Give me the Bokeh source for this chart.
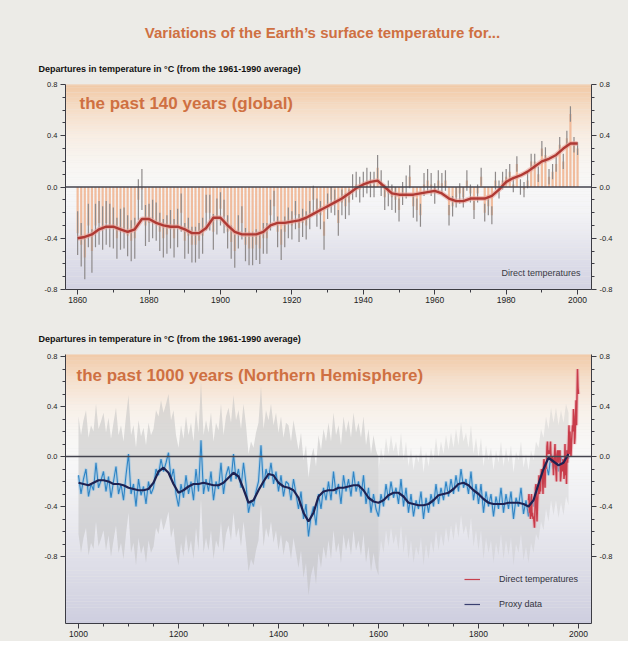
import numpy as np
from bokeh.plotting import figure
from bokeh.models import (Range1d, LinearAxis, FixedTicker, PrintfTickFormatter,
                          Label, Span, Legend, LegendItem)
from bokeh.layouts import column
from bokeh.embed import file_html
from bokeh.resources import INLINE

# ---------------- data: past 140 years (global) ----------------
glob_years = list(range(1860, 2001))
glob_anom = [
    -0.36, -0.45, -0.55, -0.30, -0.50, -0.30, -0.28, -0.32, -0.28, -0.30,
    -0.32, -0.40, -0.33, -0.32, -0.38, -0.42, -0.40, -0.10, -0.02, -0.30,
    -0.28, -0.25, -0.27, -0.35, -0.40, -0.37, -0.33, -0.40, -0.32, -0.20,
    -0.42, -0.38, -0.45, -0.45, -0.42, -0.38, -0.20, -0.20, -0.35, -0.23,
    -0.17, -0.23, -0.35, -0.43, -0.50, -0.35, -0.28, -0.45, -0.48, -0.48,
    -0.45, -0.48, -0.40, -0.40, -0.22, -0.15, -0.35, -0.45, -0.35, -0.28,
    -0.30, -0.22, -0.32, -0.28, -0.30, -0.22, -0.10, -0.20, -0.22, -0.38,
    -0.15, -0.10, -0.12, -0.28, -0.12, -0.15, -0.12, 0.00, 0.02, -0.02,
    0.02, 0.05, 0.02, 0.02, 0.15, 0.03, -0.08, -0.05, -0.08, -0.10,
    -0.18, -0.05, 0.00, 0.08, -0.15, -0.18, -0.22, 0.02, 0.05, 0.02,
    -0.05, 0.05, 0.03, 0.05, -0.22, -0.15, -0.08, -0.05, -0.08, 0.05,
    -0.05, -0.18, -0.05, 0.08, -0.20, -0.15, -0.22, 0.05, -0.02, 0.05,
    0.08, 0.12, 0.02, 0.18, 0.00, -0.02, 0.05, 0.20, 0.20, 0.10,
    0.30, 0.25, 0.08, 0.12, 0.18, 0.33, 0.20, 0.38, 0.57, 0.33,
    0.30]
# half-width of the grey uncertainty bars, per decade (1860s ... 2000)
glob_err_decade = [0.17, 0.16, 0.15, 0.14, 0.13, 0.12, 0.11, 0.10, 0.10,
                   0.09, 0.08, 0.07, 0.06, 0.06, 0.05]
glob_smooth_years = list(range(1860, 2001, 2))
glob_smooth = [
    -0.40, -0.39, -0.37, -0.33, -0.31, -0.31, -0.33, -0.35, -0.33, -0.25,
    -0.25, -0.28, -0.30, -0.31, -0.31, -0.33, -0.36, -0.36, -0.32, -0.24,
    -0.24, -0.30, -0.35, -0.37, -0.37, -0.37, -0.35, -0.30, -0.28, -0.28,
    -0.27, -0.26, -0.24, -0.21, -0.18, -0.15, -0.12, -0.09, -0.05, -0.01,
    0.02, 0.04, 0.05, 0.00, -0.05, -0.06, -0.06, -0.06, -0.05, -0.04,
    -0.03, -0.05, -0.09, -0.11, -0.11, -0.09, -0.09, -0.09, -0.07, -0.02,
    0.04, 0.07, 0.09, 0.12, 0.16, 0.20, 0.22, 0.25, 0.30, 0.34,
    0.34]

# ---------------- data: past 1000 years (Northern Hemisphere) ----------------
proxy_years = list(range(1000, 1985, 5))
proxy_vals = [
    -0.15, -0.30, -0.18, -0.10, -0.32, -0.22, -0.27, -0.05, -0.25, -0.19,
    -0.12, -0.28, -0.16, -0.33, -0.20, -0.08, -0.30, -0.22, -0.35, -0.15,
    0.02, -0.30, -0.22, -0.40, -0.18, -0.31, -0.24, -0.38, -0.20, -0.30,
    -0.25, -0.10, -0.15, -0.02, -0.12, -0.05, 0.03, -0.18, -0.10, -0.30,
    -0.40, -0.22, -0.33, -0.15, -0.30, -0.20, -0.35, -0.10, -0.28, 0.13,
    -0.30, -0.18, -0.28, -0.12, -0.35, -0.20, -0.26, -0.05, -0.30, -0.15,
    -0.08, -0.20, 0.02, -0.18, -0.10, -0.25, -0.05, -0.22, -0.45, -0.35,
    -0.40, -0.28, -0.20, 0.09, -0.25, -0.10, -0.18, -0.05, -0.22, -0.12,
    -0.28, -0.15, -0.32, -0.20, -0.22, -0.35, -0.18, -0.30, -0.42, -0.28,
    -0.50, -0.38, -0.64, -0.48, -0.40, -0.55, -0.30, -0.42, -0.25, -0.35,
    -0.20, -0.35, -0.12, -0.30, -0.22, -0.38, -0.15, -0.28, -0.18, -0.32,
    -0.12, -0.28, -0.20, -0.32, -0.15, -0.38, -0.25, -0.45, -0.30, -0.42,
    -0.48, -0.30, -0.40, -0.22, -0.35, -0.20, -0.33, -0.25, -0.38, -0.18,
    -0.40, -0.25, -0.45, -0.30, -0.48, -0.35, -0.42, -0.28, -0.50, -0.33,
    -0.45, -0.30, -0.40, -0.22, -0.38, -0.25, -0.35, -0.20, -0.32, -0.18,
    -0.30, -0.15, -0.28, -0.10, -0.25, -0.18, -0.30, -0.12, -0.35, -0.22,
    -0.38, -0.22, -0.45, -0.28, -0.40, -0.30, -0.48, -0.32, -0.42, -0.25,
    -0.45, -0.30, -0.42, -0.28, -0.50, -0.33, -0.40, -0.25, -0.46, -0.35,
    -0.48, -0.32, -0.40, -0.25, -0.30, -0.15, -0.22, -0.05, -0.15, 0.02,
    -0.10, 0.02, -0.12, 0.00, -0.10, 0.05, -0.02]
proxy_smooth_years = list(range(1000, 1990, 10))
proxy_smooth = [
    -0.21, -0.22, -0.23, -0.21, -0.19, -0.19, -0.20, -0.22, -0.22, -0.23,
    -0.25, -0.26, -0.27, -0.27, -0.26, -0.21, -0.12, -0.09, -0.13, -0.22,
    -0.29, -0.27, -0.24, -0.22, -0.22, -0.21, -0.22, -0.23, -0.23, -0.21,
    -0.17, -0.13, -0.16, -0.26, -0.37, -0.35, -0.27, -0.20, -0.14, -0.15,
    -0.21, -0.24, -0.25, -0.27, -0.33, -0.45, -0.52, -0.45, -0.32, -0.28,
    -0.27, -0.27, -0.25, -0.25, -0.24, -0.23, -0.23, -0.27, -0.33, -0.36,
    -0.37, -0.35, -0.31, -0.29, -0.29, -0.32, -0.37, -0.38, -0.39, -0.39,
    -0.38, -0.35, -0.31, -0.30, -0.29, -0.26, -0.22, -0.21, -0.23, -0.27,
    -0.30, -0.34, -0.37, -0.38, -0.38, -0.38, -0.37, -0.37, -0.37, -0.38,
    -0.40, -0.35, -0.22, -0.10, -0.01, -0.04, -0.07, -0.05, 0.02]
# two-sigma uncertainty half-width of the reconstruction
proxy_unc_before_1600 = 0.47
proxy_unc_after_1600 = 0.37
direct_years = list(range(1900, 2001))
direct_vals = [
    -0.35, -0.30, -0.45, -0.42, -0.50, -0.38, -0.30, -0.48, -0.45, -0.50,
    -0.48, -0.52, -0.57, -0.42, -0.25, -0.22, -0.40, -0.52, -0.38, -0.30,
    -0.28, -0.15, -0.30, -0.22, -0.28, -0.15, -0.10, -0.15, -0.12, -0.30,
    -0.08, -0.02, -0.08, -0.25, -0.05, -0.10, -0.05, 0.08, 0.12, 0.02,
    0.03, 0.05, 0.02, 0.05, 0.12, -0.02, -0.05, 0.00, -0.02, -0.05,
    -0.15, -0.02, 0.02, 0.10, -0.08, -0.12, -0.20, 0.02, 0.05, 0.02,
    -0.05, 0.05, 0.02, 0.05, -0.20, -0.15, -0.08, -0.05, -0.12, -0.02,
    -0.05, -0.18, -0.12, 0.10, -0.15, -0.08, -0.22, 0.05, -0.05, 0.02,
    0.12, 0.25, 0.02, 0.20, 0.05, 0.00, 0.10, 0.18, 0.25, 0.20,
    0.38, 0.32, 0.10, 0.15, 0.28, 0.45, 0.25, 0.48, 0.70, 0.55,
    0.50]

y_ticks = [-0.8, -0.4, 0.0, 0.4, 0.8]
y_minor = [-0.7, -0.6, -0.5, -0.3, -0.2, -0.1, 0.1, 0.2, 0.3, 0.5, 0.6, 0.7]
top_x_ticks = list(range(1860, 2001, 20))
top_x_minor = list(range(1870, 2000, 20))
bot_x_ticks = list(range(1000, 2001, 200))
bot_x_minor = [y for y in range(1050, 2001, 50) if y not in bot_x_ticks]

# ---------------- styling ----------------
FONT = "Liberation Sans"
PAPER = "#ecebe7"
ORANGE = "#cf7042"
AX = "#3c3c44"

# layout (pixels, picture coordinates)
W = 628
BL, FW = 65, 526
BR = W - BL - FW
H_HEAD1 = 78              # header strip above the top panel
T1, FH1, B1 = 6, 205, 27  # top panel
H_HEAD2 = 32              # header strip above the bottom panel
T2, FH2, B2 = 6, 269, 18  # bottom panel
FT1 = H_HEAD1 + T1
FT2 = H_HEAD1 + T1 + FH1 + B1 + H_HEAD2 + T2


def hex_rgb(h):
    h = h.lstrip("#")
    return np.array([int(h[i:i + 2], 16) for i in (0, 2, 4)], dtype=float)


def gradient(p, stops, x0, x1, y0, y1, n=90):
    vals = np.array([s[0] for s in stops])
    cols = np.array([hex_rgb(s[1]) for s in stops])
    edges = np.linspace(y0, y1, n + 1)
    h = edges[1] - edges[0]
    mids = (edges[:-1] + edges[1:]) / 2
    colors = []
    for m in mids:
        rgb = [np.interp(m, vals[::-1], cols[::-1, k]) for k in range(3)]
        colors.append("#%02x%02x%02x" % tuple(int(round(c)) for c in rgb))
    p.quad(left=x0, right=x1, bottom=edges[:-1], top=edges[:-1] + h * 1.05,
           fill_color=colors, line_color=None)


def style_axis(ax, size, standoff=3):
    ax.axis_line_color = AX
    ax.axis_line_width = 1
    ax.major_tick_line_color = AX
    ax.minor_tick_line_color = AX
    ax.major_tick_in = 0
    ax.major_tick_out = 5
    ax.minor_tick_in = 0
    ax.minor_tick_out = 3
    ax.major_label_text_font = FONT
    ax.major_label_text_font_size = size
    ax.major_label_text_color = "#222222"
    ax.major_label_standoff = standoff


def make_header(h):
    p = figure(frame_width=W, frame_height=h, min_border=0,
               min_border_left=0, min_border_right=0, min_border_top=0,
               min_border_bottom=0, frame_align=False,
               x_range=Range1d(0, W), y_range=Range1d(0, h),
               x_axis_type=None, y_axis_type=None,
               output_backend="svg", toolbar_location=None,
               background_fill_color=PAPER, border_fill_color=PAPER)
    p.outline_line_color = None
    return p


def make_fig(xr, yr, top, fh, bottom, xt, xm):
    p = figure(frame_width=FW, frame_height=fh, min_border_left=BL,
               min_border_right=BR, min_border_top=top, min_border_bottom=bottom,
               frame_align=False,
               x_range=Range1d(*xr), y_range=Range1d(*yr),
               output_backend="svg", toolbar_location=None,
               background_fill_color=PAPER, border_fill_color=PAPER)
    p.outline_line_color = None
    p.xgrid.visible = False
    p.ygrid.visible = False
    p.xaxis.ticker = FixedTicker(ticks=xt, minor_ticks=xm)
    p.xaxis.formatter = PrintfTickFormatter(format="%d")
    style_axis(p.xaxis[0], "8.5px", standoff=2)
    p.yaxis.ticker = FixedTicker(ticks=y_ticks, minor_ticks=y_minor)
    p.yaxis.formatter = PrintfTickFormatter(format="%.1f")
    style_axis(p.yaxis[0], "7.5px")
    ra = LinearAxis(ticker=FixedTicker(ticks=y_ticks, minor_ticks=y_minor),
                    formatter=PrintfTickFormatter(format="%.1f"))
    style_axis(ra, "7.5px")
    p.add_layout(ra, "right")
    return p


DEPART = "Departures in temperature in \u00b0C (from the 1961-1990 average)"

# ================= header of top panel =================
h1 = make_header(H_HEAD1)
h1.add_layout(Label(x=322, y=H_HEAD1 - 32,
                    text="Variations of the Earth\u2019s surface temperature for...",
                    text_font=FONT, text_font_size="15px", text_font_style="bold",
                    text_color=ORANGE, text_align="center",
                    text_baseline="middle"))
h1.add_layout(Label(x=38, y=H_HEAD1 - 68, text=DEPART,
                    text_font=FONT, text_font_size="9px", text_font_style="bold",
                    text_color="#111111", text_align="left",
                    text_baseline="middle"))

# ================= top panel =================
xr1 = (1856.6, 2003.9)
yr1 = (-0.8, 0.8)
p1 = make_fig(xr1, yr1, T1, FH1, B1, top_x_ticks, top_x_minor)


def X1(px):
    return xr1[0] + (px - BL) * (xr1[1] - xr1[0]) / FW


def Y1(py):
    return yr1[1] - (py - FT1) * (yr1[1] - yr1[0]) / FH1


gradient(p1, [(0.8, "#f1c8a4"), (0.62, "#f5dcc5"), (0.4, "#f8ede3"),
              (0.2, "#f8f5f1"), (0.0, "#f8f8f8"), (-0.2, "#f3f3f6"),
              (-0.4, "#e8e8ef"), (-0.6, "#dcdce8"), (-0.8, "#d2d2e3")],
         xr1[0] - 5, xr1[1] + 5, yr1[0] - 0.05, yr1[1] + 0.05)

g_err = np.array([glob_err_decade[(y - 1860) // 10] for y in glob_years])
g_val = np.array(glob_anom)
p1.vbar(x=glob_years, top=glob_anom, bottom=0, width=0.62,
        fill_color="#efb693", fill_alpha=0.9, line_color=None)
p1.segment(x0=glob_years, y0=g_val - g_err, x1=glob_years, y1=g_val + g_err,
           line_color="#8e8a8a", line_width=1.2)
p1.add_layout(Span(location=0, dimension="width", line_color="#44444f",
                   line_width=1.6))
p1.line(glob_smooth_years, glob_smooth, line_color="#e9a39a", line_width=5,
        line_alpha=0.6)
p1.line(glob_smooth_years, glob_smooth, line_color="#b03a34", line_width=2.4)

p1.add_layout(Label(x=X1(79), y=Y1(103), text="the past 140 years (global)",
                    text_font=FONT, text_font_size="17px", text_font_style="bold",
                    text_color=ORANGE, text_align="left",
                    text_baseline="middle"))
p1.add_layout(Label(x=X1(580), y=Y1(272), text="Direct temperatures",
                    text_font=FONT, text_font_size="9px", text_color="#3a3a44",
                    text_align="right", text_baseline="middle"))

# ================= header of bottom panel =================
h2 = make_header(H_HEAD2)
h2.add_layout(Label(x=38, y=10, text=DEPART,
                    text_font=FONT, text_font_size="9px", text_font_style="bold",
                    text_color="#111111", text_align="left",
                    text_baseline="middle"))

# ================= bottom panel =================
xr2 = (974.0, 2026.0)
yr2 = (-1.336, 0.816)
p2 = make_fig(xr2, yr2, T2, FH2, B2, bot_x_ticks, bot_x_minor)


def X2(px):
    return xr2[0] + (px - BL) * (xr2[1] - xr2[0]) / FW


def Y2(py):
    return yr2[1] - (py - FT2) * (yr2[1] - yr2[0]) / FH2


gradient(p2, [(0.816, "#f1caa8"), (0.62, "#f5dfcb"), (0.4, "#f8efe7"),
              (0.2, "#f8f6f3"), (0.0, "#f8f8f8"), (-0.4, "#eeeef2"),
              (-0.8, "#e0e0e9"), (-1.336, "#cecedf")],
         xr2[0] - 5, xr2[1] + 5, yr2[0] - 0.05, yr2[1] + 0.05)

pv = np.array(proxy_vals)
py_ = np.array(proxy_years)
pre = py_ <= 1600
post = py_ >= 1600
p2.varea(x=py_[pre], y1=pv[pre] - proxy_unc_before_1600,
         y2=pv[pre] + proxy_unc_before_1600, fill_color="#bdbdbd", fill_alpha=0.5)
p2.varea(x=py_[post], y1=pv[post] - proxy_unc_after_1600,
         y2=pv[post] + proxy_unc_after_1600, fill_color="#c6c6c6", fill_alpha=0.36)
p2.add_layout(Span(location=0, dimension="width", line_color="#44444f",
                   line_width=1.6))
p2.line(proxy_years, proxy_vals, line_color="#8fc3e8", line_width=3.2,
        line_alpha=0.55)
p2.line(proxy_years, proxy_vals, line_color="#2f84c4", line_width=1.1)
p2.line(direct_years, direct_vals, line_color="#e9a0a8", line_width=3.5,
        line_alpha=0.6)
p2.line(direct_years, direct_vals, line_color="#c83c4a", line_width=1.5)
p2.line(proxy_smooth_years, proxy_smooth, line_color="#1e2252", line_width=2.2)

# thin key lines for the legend (they hold no data points)
key_red = p2.line(x=[np.nan, np.nan], y=[np.nan, np.nan],
                  line_color="#c8404c", line_width=1.2)
key_navy = p2.line(x=[np.nan, np.nan], y=[np.nan, np.nan],
                   line_color="#3a4070", line_width=1.2)

p2.add_layout(Label(x=X2(76), y=Y2(375),
                    text="the past 1000 years (Northern Hemisphere)",
                    text_font=FONT, text_font_size="17px", text_font_style="bold",
                    text_color=ORANGE, text_align="left",
                    text_baseline="middle"))

legend = Legend(items=[LegendItem(label="Direct temperatures", renderers=[key_red]),
                       LegendItem(label="Proxy data", renderers=[key_navy])],
                location=(399, 9), glyph_width=16, glyph_height=20,
                label_height=20, label_standoff=19, spacing=5, padding=0,
                margin=0, background_fill_alpha=0, border_line_color=None,
                label_text_font=FONT, label_text_font_size="9px",
                label_text_color="#333340")
p2.add_layout(legend)

layout = column(h1, p1, h2, p2, spacing=0,
                styles={"background-color": PAPER})
open("out.html", "w").write(file_html(layout, INLINE))
